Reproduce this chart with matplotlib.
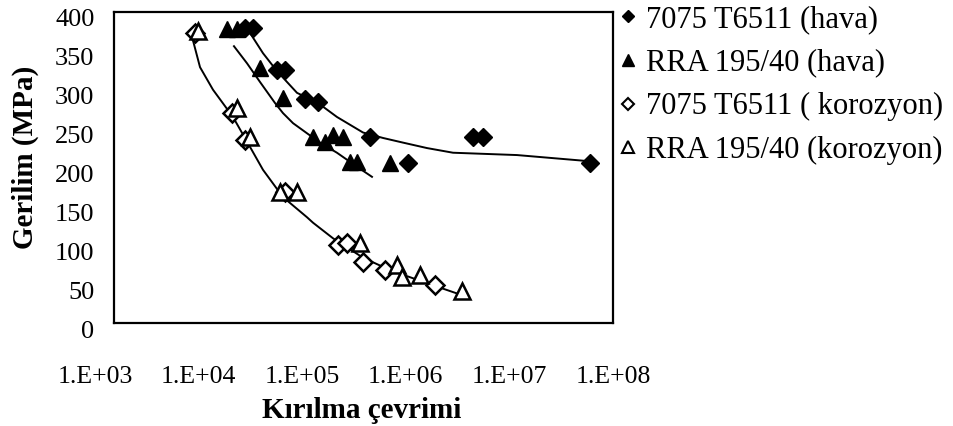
import numpy as np
import matplotlib.pyplot as plt
from matplotlib.lines import Line2D
from matplotlib.transforms import ScaledTranslation

# ---- veri ----
# 7075 T6511 (hava) - dolu karo
hava_7075_N = [2.06e4, 2.47e4, 4.3e4, 5.2e4, 8.2e4, 1.1e5, 3.67e5, 3.95e6, 4.98e6, 8.8e5, 5.9e7]
hava_7075_S = [380, 380, 325, 325, 288, 284, 239, 239, 239, 206, 206]

# RRA 195/40 (hava) - dolu üçgen
hava_rra_N = [1.36e4, 1.7e4, 2.9e4, 4.93e4, 9.86e4, 1.3e5, 1.56e5, 1.97e5, 2.32e5, 2.72e5, 5.8e5]
hava_rra_S = [378, 378, 328, 289, 239, 233, 242, 239, 207, 207, 206]

# 7075 T6511 (korozyon) - boş karo
kor_7075_N = [6.5e3, 1.52e4, 2.06e4, 5.2e4, 1.76e5, 2.16e5, 3.13e5, 5.2e5, 1.64e6]
kor_7075_S = [373, 270, 235, 168, 100, 103, 78, 68, 49]

# RRA 195/40 (korozyon) - boş üçgen
kor_rra_N = [6.95e3, 1.7e4, 2.3e4, 4.6e4, 6.8e4, 2.9e5, 6.9e5, 7.7e5, 1.16e6, 3.1e6]
kor_rra_S = [376, 277, 239, 168, 168, 103, 75, 59, 62, 41]

# eğilim çizgileri (log10 N, S)
trend1_logN = [4.363, 4.493, 4.633, 4.834, 5.044, 5.234, 5.495, 5.695, 5.896, 6.136, 6.397, 7.038, 7.77]
trend1_S = [373, 347, 324, 296, 283, 265, 245, 238, 232, 225, 219, 216, 208]
trend2_logN = [4.202, 4.333, 4.463, 4.613, 4.693, 4.794, 4.934, 5.064, 5.234, 5.435, 5.585]
trend2_S = [356, 334, 310, 283, 270, 257, 244, 232, 219, 201, 188]
trend3_logN = [3.782, 3.862, 3.992, 4.192, 4.343, 4.493, 4.693, 4.934, 4.994, 5.194, 5.495, 5.766, 6.096, 6.437]
trend3_S = [368, 329, 300, 265, 231, 197, 162, 136, 129, 109, 84, 68, 53, 38]

x_ticks = [1e3, 1e4, 1e5, 1e6, 1e7, 1e8]
x_ticklabels = ["1.E+03", "1.E+04", "1.E+05", "1.E+06", "1.E+07", "1.E+08"]
y_ticks = [0, 50, 100, 150, 200, 250, 300, 350, 400]

labels = ["7075 T6511 (hava)", "RRA 195/40 (hava)", "7075 T6511 ( korozyon)", "RRA 195/40 (korozyon)"]

plt.rcParams['font.family'] = ['Liberation Serif', 'DejaVu Serif']

fig = plt.figure(figsize=(9.54, 4.26), dpi=100)
ax = fig.add_axes([114 / 954, 103 / 426, 499 / 954, 311 / 426])

# eğilim çizgileri
for lx, s in [(trend1_logN, trend1_S), (trend2_logN, trend2_S), (trend3_logN, trend3_S)]:
    ax.plot(10 ** np.array(lx), s, color='black', linewidth=1.4, zorder=2)

ax.plot(hava_7075_N, hava_7075_S, 'D', color='black', markersize=9, linestyle='none', zorder=3)
ax.plot(hava_rra_N, hava_rra_S, '^', color='black', markersize=11, linestyle='none', zorder=3)
ax.plot(kor_7075_N, kor_7075_S, 'D', markerfacecolor='white', markeredgecolor='black',
        markeredgewidth=1.8, markersize=9, linestyle='none', zorder=3)
ax.plot(kor_rra_N, kor_rra_S, '^', markerfacecolor='white', markeredgecolor='black',
        markeredgewidth=1.8, markersize=11, linestyle='none', zorder=3)

ax.set_xscale('log')
ax.set_xlim(1e3, 1e8)
ax.set_ylim(0, 400)
ax.set_xticks([])
ax.minorticks_off()
ax.set_yticks(y_ticks)
ax.tick_params(length=0, labelsize=19, colors='black')
ax.tick_params(axis='y', pad=14)
for sp in ax.spines.values():
    sp.set_linewidth(1.6)
    sp.set_color('black')

# y etiketleri Excel görüntüsündeki gibi biraz aşağıda
off_y = ScaledTranslation(0, -6 / 100, fig.dpi_scale_trans)
for t in ax.get_yticklabels():
    t.set_transform(t.get_transform() + off_y)

# x etiketleri resimde kutudan bağımsız ayrı bir ölçekte duruyor
axl = fig.add_axes([95 / 954, 1 - 362 / 426, 518 / 954, 0.001])
axl.set_xscale('log')
axl.set_xlim(1e3, 1e8)
axl.set_xticks(x_ticks)
axl.set_xticklabels(x_ticklabels)
axl.minorticks_off()
axl.set_yticks([])
axl.tick_params(length=0, labelsize=18.5, pad=3, colors='black')
for sp in axl.spines.values():
    sp.set_visible(False)
axl.patch.set_visible(False)

ax.set_ylabel("Gerilim (MPa)", fontsize=21, fontweight='bold')
ax.yaxis.set_label_coords(-0.15, 0.534)
ax.set_xlabel("Kırılma çevrimi", fontsize=21, fontweight='bold')
ax.xaxis.set_label_coords(0.497, -0.238)

# lejant
handles = [
    Line2D([], [], marker='D', color='black', linestyle='none', markersize=6),
    Line2D([], [], marker='^', color='black', linestyle='none', markersize=8),
    Line2D([], [], marker='D', markerfacecolor='white', markeredgecolor='black', markeredgewidth=1.5,
           linestyle='none', markersize=6),
    Line2D([], [], marker='^', markerfacecolor='white', markeredgecolor='black', markeredgewidth=1.5,
           linestyle='none', markersize=8),
]
fig.legend(handles, labels, loc='upper left', bbox_to_anchor=(620 / 954, 1 - 5 / 426), frameon=False,
           fontsize=22, handlelength=0.55, handletextpad=0.3, labelspacing=0.48, borderaxespad=0,
           borderpad=0)

fig.savefig("out.png", dpi=100)
